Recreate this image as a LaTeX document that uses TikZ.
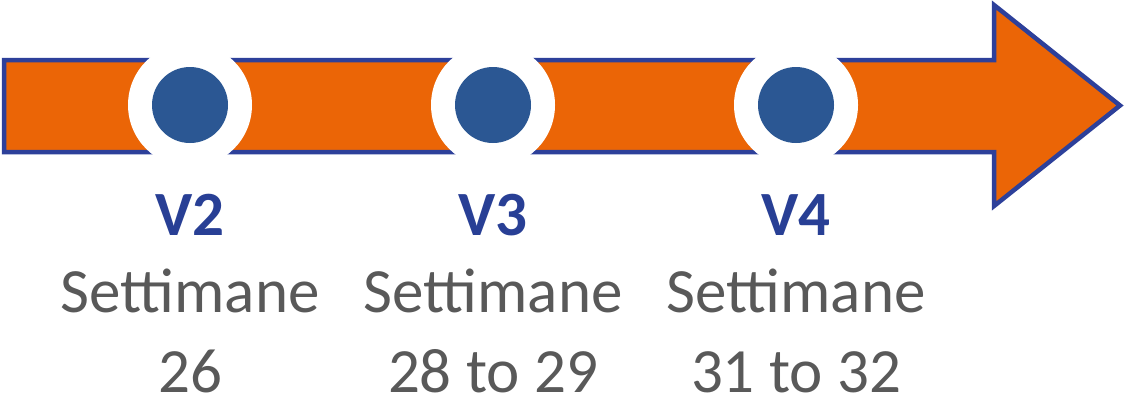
\documentclass[tikz,border=0pt]{standalone}
\usepackage{fontspec}
\setmainfont{Carlito}
\definecolor{arroworange}{HTML}{EB6506}
\definecolor{arrowedge}{HTML}{2D409A}
\definecolor{dotblue}{HTML}{2B5793}
\definecolor{labelblue}{HTML}{283F95}
\definecolor{textgray}{HTML}{595959}
\begin{document}
\begin{tikzpicture}[x=1pt,y=-1pt,
  ring/.style={circle,fill=white,minimum size=124pt,inner sep=0pt},
  dot/.style={circle,fill=dotblue,minimum size=76pt,inner sep=0pt},
  vlabel/.style={anchor=base,font=\fontsize{63}{70}\selectfont\bfseries,text=labelblue,inner sep=0pt},
  wlabel/.style={anchor=base,font=\fontsize{63}{70}\selectfont,text=textgray,inner sep=0pt}]
\useasboundingbox (0,0) rectangle (1126,418);
\fill[white] (0,0) rectangle (1126,418);
\draw[fill=arroworange,draw=arrowedge,line width=4.5pt,line join=miter]
  (4,60) -- (994,60) -- (994,5) -- (1120,105.5) -- (994,206) -- (994,152) -- (4,152) -- cycle;
\foreach \n/\x in {a/190,b/493,c/796}{
  \node[ring] (ring\n) at (\x,105) {};
  \node[dot] (dot\n) at (\x,105) {};
}
\node[vlabel] (v2) at (190,235) {V2};
\node[vlabel] (v3) at (493,235) {V3};
\node[vlabel] (v4) at (796,235) {V4};
\node[wlabel] (s2) at (190,312) {Settimane};
\node[wlabel] (s3) at (493,312) {Settimane};
\node[wlabel] (s4) at (796,312) {Settimane};
\node[wlabel] (w2) at (190,392) {26};
\node[wlabel] (w3) at (493,392) {28 to 29};
\node[wlabel] (w4) at (796,392) {31 to 32};
\end{tikzpicture}
\end{document}
